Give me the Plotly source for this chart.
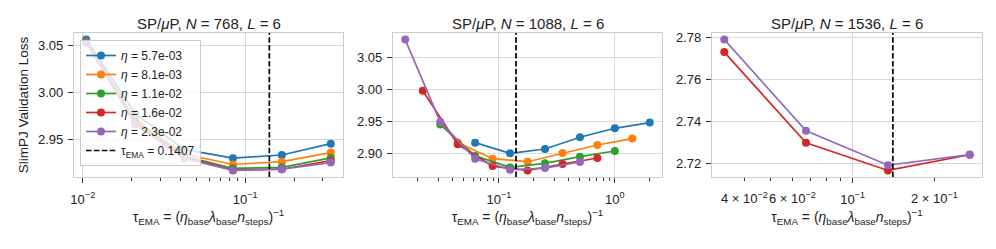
import numpy as np
import plotly.graph_objects as go

# ---------------- data ----------------
eta_labels = ["5.7e-03", "8.1e-03", "1.1e-02", "1.6e-02", "2.3e-02"]
series_colors = ["#1f77b4", "#ff7f0e", "#2ca02c", "#d62728", "#9467bd"]
tau_ema = 0.1407

panel_titles = [
    "SP/<i>μ</i>P, <i>N</i> = 768, <i>L</i> = 6",
    "SP/<i>μ</i>P, <i>N</i> = 1088, <i>L</i> = 6",
    "SP/<i>μ</i>P, <i>N</i> = 1536, <i>L</i> = 6",
]

# Panel 1 (N=768): same tau grid for all learning rates
p1_tau = [0.0105, 0.021, 0.042, 0.084, 0.168, 0.336]
p1_loss = [
    [3.056, 2.9778, 2.940, 2.9307, 2.934, 2.946],
    [3.054, 2.972, 2.935, 2.9240, 2.927, 2.9366],
    [3.054, 2.970, 2.933, 2.920, 2.921, 2.931],
    [3.053, 2.968, 2.932, 2.918, 2.919, 2.928],
    [3.053, 2.966, 2.9305, 2.9177, 2.919, 2.926],
]

# Panel 2 (N=1088): tau grid differs per learning rate
p2_tau = [
    [0.0625, 0.125, 0.25, 0.5, 1.0, 2.0],
    [0.0442, 0.0884, 0.177, 0.354, 0.707, 1.414],
    [0.03125, 0.0625, 0.125, 0.25, 0.5, 1.0],
    [0.0221, 0.0442, 0.0884, 0.177, 0.354, 0.707],
    [0.0156, 0.03125, 0.0625, 0.125, 0.25, 0.5],
]
p2_loss = [
    [2.9168, 2.900, 2.9068, 2.9252, 2.9393, 2.9483],
    [2.917, 2.8916, 2.8869, 2.9005, 2.9131, 2.9231],
    [2.9451, 2.896, 2.878, 2.8843, 2.8948, 2.9037],
    [2.9981, 2.9142, 2.880, 2.8732, 2.8832, 2.8927],
    [3.0784, 2.9493, 2.8916, 2.8743, 2.8769, 2.8864],
]

# Panel 3 (N=1536): only the two largest learning rates
p3_tau = [0.0337, 0.0674, 0.135, 0.27]
p3_series_idx = [3, 4]
p3_loss = [
    [2.773, 2.7297, 2.7165, 2.7240],
    [2.779, 2.7354, 2.7190, 2.7241],
]

# tick labels
p1_xticks = [0.01, 0.1]
p1_xticktext = ["10<sup>−2</sup>", "10<sup>−1</sup>"]
p1_xminor = [0.02, 0.03, 0.04, 0.05, 0.06, 0.07, 0.08, 0.09, 0.2, 0.3, 0.4]
p1_yticks = [2.95, 3.00, 3.05]

p2_xticks = [0.1, 1.0]
p2_xticktext = ["10<sup>−1</sup>", "10<sup>0</sup>"]
p2_xminor = [0.02, 0.03, 0.04, 0.05, 0.06, 0.07, 0.08, 0.09,
             0.2, 0.3, 0.4, 0.5, 0.6, 0.7, 0.8, 0.9, 2.0]
p2_yticks = [2.90, 2.95, 3.00, 3.05]

p3_xticks = [0.1]
p3_xticktext = ["10<sup>−1</sup>"]
p3_xminor = [0.04, 0.05, 0.06, 0.07, 0.08, 0.09, 0.2]
p3_minor_labeled = [0.04, 0.06, 0.2]
p3_minor_text = ["4 × 10<sup>−2</sup>", "6 × 10<sup>−2</sup>", "2 × 10<sup>−1</sup>"]
p3_yticks = [2.72, 2.74, 2.76, 2.78]

x_title = ("τ<sub>EMA</sub> = (<i>η</i><sub>base</sub><i>λ</i><sub>base</sub>"
           "<i>n</i><sub>steps</sub>)<sup>−1</sup>")
y_title = "SlimPJ Validation Loss"

# ---------------- layout helpers ----------------
W, H = 996, 249
FONT = "Liberation Sans, Arial, Helvetica, sans-serif"
SPINE = "#cccccc"
GRID = "#d9d9d9"
TICKC = "#333333"
TXT = "#222222"
DASH = "5.5px,2.4px"
X_LABEL_STANDOFF = 5


def log_range(vals):
    lo, hi = np.log10(min(vals)), np.log10(max(vals))
    m = 0.05 * (hi - lo)
    return [lo - m, hi + m]


def lin_range(vals):
    lo, hi = min(vals), max(vals)
    m = 0.05 * (hi - lo)
    return [lo - m, hi + m]


xdoms = [[74 / W, 343 / W], [393 / W, 662 / W], [712 / W, 982 / W]]
ydom = [1 - 177 / H, 1 - 33 / H]

fig = go.Figure()

# ranges
p1_xr = log_range(p1_tau)
p1_yr = lin_range([v for s in p1_loss for v in s])
p2_xr = log_range([v for s in p2_tau for v in s])
p2_yr = lin_range([v for s in p2_loss for v in s])
p3_xr = log_range(p3_tau)
p3_yr = lin_range([v for s in p3_loss for v in s])

# ---------------- traces ----------------
for i, (lab, col) in enumerate(zip(eta_labels, series_colors)):
    fig.add_trace(go.Scatter(
        x=p1_tau, y=p1_loss[i], mode="lines+markers",
        line=dict(color=col, width=1.7), marker=dict(color=col, size=8),
        name=f"<i>η</i> = {lab}", legendgroup=lab, showlegend=True,
        xaxis="x", yaxis="y"))
fig.add_trace(go.Scatter(
    x=[tau_ema, tau_ema], y=p1_yr, mode="lines",
    line=dict(color="black", width=1.7, dash=DASH),
    name=f"τ<sub>EMA</sub> = {tau_ema}", legendgroup="tau", showlegend=True,
    xaxis="x", yaxis="y"))

for i, (lab, col) in enumerate(zip(eta_labels, series_colors)):
    fig.add_trace(go.Scatter(
        x=p2_tau[i], y=p2_loss[i], mode="lines+markers",
        line=dict(color=col, width=1.7), marker=dict(color=col, size=8),
        name=f"<i>η</i> = {lab}", legendgroup=lab, showlegend=False,
        xaxis="x2", yaxis="y2"))
fig.add_trace(go.Scatter(
    x=[tau_ema, tau_ema], y=p2_yr, mode="lines",
    line=dict(color="black", width=1.7, dash=DASH),
    legendgroup="tau", showlegend=False, xaxis="x2", yaxis="y2"))

for j, si in enumerate(p3_series_idx):
    col = series_colors[si]
    fig.add_trace(go.Scatter(
        x=p3_tau, y=p3_loss[j], mode="lines+markers",
        line=dict(color=col, width=1.7), marker=dict(color=col, size=8),
        name=f"<i>η</i> = {eta_labels[si]}", legendgroup=eta_labels[si],
        showlegend=False, xaxis="x3", yaxis="y3"))
fig.add_trace(go.Scatter(
    x=[tau_ema, tau_ema], y=p3_yr, mode="lines",
    line=dict(color="black", width=1.7, dash=DASH),
    legendgroup="tau", showlegend=False, xaxis="x3", yaxis="y3"))


def xaxis(dom, rng, tv, tt, minor, anchor):
    return dict(
        domain=dom, range=rng, type="log", anchor=anchor, automargin=False,
        tickmode="array", tickvals=tv, ticktext=tt,
        ticks="outside", ticklen=5, tickwidth=1, tickcolor=TICKC,
        ticklabelstandoff=X_LABEL_STANDOFF,
        showgrid=True, gridcolor=GRID, gridwidth=1,
        showline=True, mirror=True, linecolor=SPINE, linewidth=1.2,
        zeroline=False,
        minor=dict(tickmode="array", tickvals=minor, ticks="outside",
                   ticklen=3, tickwidth=1, tickcolor=TICKC, showgrid=False),
        tickfont=dict(family=FONT, size=13, color=TXT),
        title=dict(text=x_title, font=dict(family=FONT, size=14, color=TXT),
                   standoff=5),
    )


def yaxis(rng, tv, anchor, title=None):
    d = dict(
        domain=ydom, range=rng, anchor=anchor, automargin=False,
        tickmode="array", tickvals=tv, tickformat=".2f",
        ticks="outside", ticklen=5, tickwidth=1, tickcolor=TICKC,
        ticklabelstandoff=2,
        showgrid=True, gridcolor=GRID, gridwidth=1,
        showline=True, mirror=True, linecolor=SPINE, linewidth=1.2,
        zeroline=False,
        tickfont=dict(family=FONT, size=13, color=TXT),
    )
    if title:
        d["title"] = dict(text=title, font=dict(family=FONT, size=13.5, color=TXT),
                          standoff=6)
    return d


annotations = []
for dom, t in zip(xdoms, panel_titles):
    annotations.append(dict(
        text=t, xref="paper", yref="paper", x=(dom[0] + dom[1]) / 2,
        y=1 - 23 / H, xanchor="center", yanchor="middle", showarrow=False,
        font=dict(family=FONT, size=15, color=TXT)))

for v, t in zip(p3_minor_labeled, p3_minor_text):
    annotations.append(dict(
        text=t, xref="x3", yref="paper", x=float(np.log10(v)), y=ydom[0],
        xanchor="center", yanchor="top", yshift=-(6 + X_LABEL_STANDOFF),
        showarrow=False, font=dict(family=FONT, size=13, color=TXT)))

fig.update_layout(
    width=W, height=H,
    margin=dict(l=0, r=0, t=0, b=0, autoexpand=False),
    paper_bgcolor="white", plot_bgcolor="white",
    font=dict(family=FONT, size=13, color=TXT),
    xaxis=xaxis(xdoms[0], p1_xr, p1_xticks, p1_xticktext, p1_xminor, "y"),
    xaxis2=xaxis(xdoms[1], p2_xr, p2_xticks, p2_xticktext, p2_xminor, "y2"),
    xaxis3=xaxis(xdoms[2], p3_xr, p3_xticks, p3_xticktext, p3_xminor, "y3"),
    yaxis=yaxis(p1_yr, p1_yticks, "x", y_title),
    yaxis2=yaxis(p2_yr, p2_yticks, "x2"),
    yaxis3=yaxis(p3_yr, p3_yticks, "x3"),
    annotations=annotations,
    showlegend=True,
    legend=dict(
        x=80 / W, y=1 - 40 / H, xanchor="left", yanchor="top",
        bgcolor="rgba(255,255,255,0.8)", bordercolor="#cccccc", borderwidth=1,
        font=dict(family=FONT, size=12, color=TXT),
        itemwidth=30, tracegroupgap=0,
    ),
)

fig.write_html(
    "out.html",
    config={"displayModeBar": False},
    post_script="document.body.style.margin='0';document.body.style.padding='0';"
                "document.documentElement.style.overflow='hidden';",
)
